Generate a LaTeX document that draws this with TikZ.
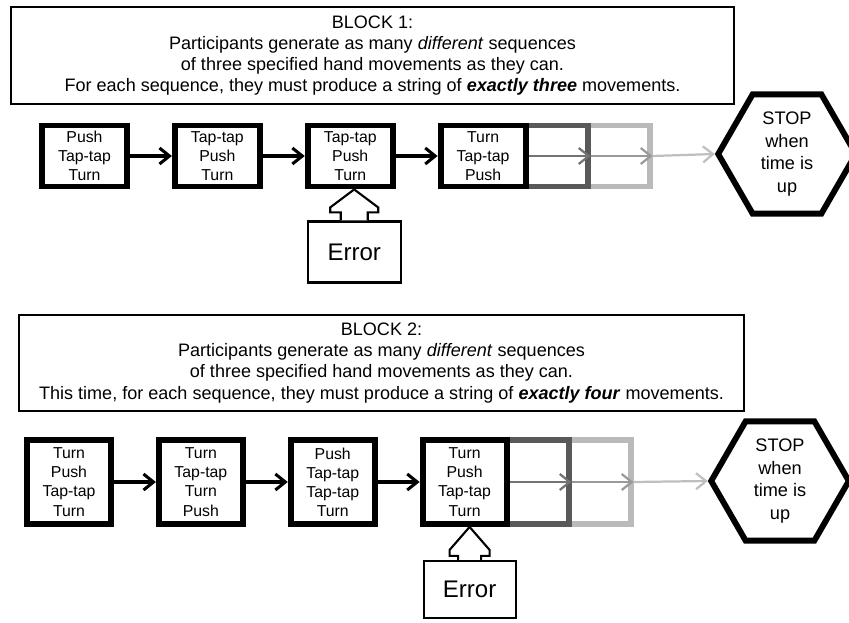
\documentclass[tikz,border=0pt]{standalone}
\usepackage{fontspec}
\setmainfont{Liberation Sans}
\usepackage{tikz}
\usetikzlibrary{arrows.meta,positioning,shapes.geometric}
\usetikzlibrary{backgrounds}
\tikzstyle{block}=[rectangle,
draw=black,
line width=1.6pt,
align=center,
font=\fontsize{15.4}{18}\selectfont]
\tikzstyle{sequence}=[rectangle,
draw=black,
fill=white,
line width=5pt,
align=center,
inner sep=0pt,
font=\fontsize{13.5}{16.3}\selectfont,
minimum width=2.55cm]
\tikzstyle{row1}=[minimum height=1.83cm]
\tikzstyle{row2}=[minimum height=2.52cm,
minimum width=2.52cm]
\tikzstyle{stop}=[regular polygon,
regular polygon sides=6,
draw=black,
fill=white,
line width=5pt,
inner sep=0pt,
align=center,
font=\fontsize{15.5}{19.3}\selectfont]
\tikzstyle{error}=[rectangle,
draw=black,
line width=1.8pt,
font=\fontsize{20.5}{24}\selectfont]
\tikzstyle{errarrow}=[draw=black,
fill=white,
line width=1.8pt,
line join=miter]
\tikzstyle{flow}=[->,
line width=2.6pt]
\tikzstyle{fade}=[->,
line width=1.9pt]

\begin{document}
\begin{tikzpicture}[x=0.03cm,y=-0.03cm,>={Straight Barb[length=3mm,width=4.8mm]}]
	% page frame in pixel units (y runs downwards)
	\useasboundingbox (0,0) rectangle (849,623);

	% First block: header and the three-movement sequences
	\node (block1) [block,minimum width=21.69cm,minimum height=2.91cm] at (372.5,55.5)
	{BLOCK 1:\\
	Participants generate as many \textit{different} sequences\\
	of three specified hand movements as they can.\\
	For each sequence, they must produce a string of \textbf{\textit{exactly three}} movements.};

	\node (s1a) [sequence,row1] at (84.5,156) {Push\\Tap-tap\\Turn};
	\node (s1b) [sequence,row1,right=1.26cm of s1a] {Tap-tap\\Push\\Turn};
	\node (s1c) [sequence,row1,right=1.26cm of s1b] {Tap-tap\\Push\\Turn};
	\node (s1d) [sequence,row1,right=1.26cm of s1c] {Turn\\Tap-tap\\Push};
	\node (stop1) [stop,minimum size=3.7cm] at (787,154) {STOP\\when\\time is\\up};
	\node (err1) [error,minimum width=2.79cm,minimum height=1.83cm,
	below=0.93cm of s1c,xshift=0.12cm] {Error};

	% Second block: header and the four-movement sequences
	\node (block2) [block,minimum width=21.75cm,minimum height=2.88cm] at (381.5,363)
	{BLOCK 2:\\
	Participants generate as many \textit{different} sequences\\
	of three specified hand movements as they can.\\
	This time, for each sequence, they must produce a string of \textbf{\textit{exactly four}} movements.};

	\node (s2a) [sequence,row2] at (69,482) {Turn\\Push\\Tap-tap\\Turn};
	\node (s2b) [sequence,row2,right=1.26cm of s2a] {Turn\\Tap-tap\\Turn\\Push};
	\node (s2c) [sequence,row2,right=1.26cm of s2b] {Push\\Tap-tap\\Tap-tap\\Turn};
	\node (s2d) [sequence,row2,right=1.26cm of s2c] {Turn\\Push\\Tap-tap\\Turn};
	\node (stop2) [stop,minimum size=3.8cm] at (780,481) {STOP\\when\\time is\\up};
	\node (err2) [error,minimum width=2.76cm,minimum height=1.71cm,
	below=0.99cm of s2d,xshift=0.15cm] {Error};

	% The fading boxes behind the last sequence of each row
	\begin{pgfonlayer}{background}
	\node (s1f) [sequence,row1,draw=black!27] at ([xshift=3.72cm]s1d) {};
	\node (s1e) [sequence,row1,draw=black!65] at ([xshift=1.86cm]s1d) {};
	\node (s2f) [sequence,row2,draw=black!27] at ([xshift=3.72cm]s2d) {};
	\node (s2e) [sequence,row2,draw=black!65] at ([xshift=1.86cm]s2d) {};
	\end{pgfonlayer}

	% Connections between the sequences
	\path[flow]
	(s1a) edge (s1b)
	(s1b) edge (s1c)
	(s1c) edge (s1d)
	(s2a) edge (s2b)
	(s2b) edge (s2c)
	(s2c) edge (s2d)
	;
	\draw[fade,draw=black!55] (s1d.east) -- (s1e.east);
	\draw[fade,draw=black!40] (s1e.east) -- (s1f.east);
	\draw[fade,draw=black!25] (s1f.east) -- (stop1.west);
	\draw[fade,draw=black!55] (s2d.east) -- (s2e.east);
	\draw[fade,draw=black!40] (s2e.east) -- (s2f.east);
	\draw[fade,draw=black!25] (s2f.east) -- (stop2.west);

	% Hollow arrows from the error boxes
	\draw[errarrow] (err1.north) ++(-13.5,0) -- ++(0,-8) -- ++(-10.5,0) -- ++(0,-5)
	-- (err1.north |- s1c.south) -- ++(24,18) -- ++(0,5) -- ++(-10.5,0) -- ++(0,8);
	\draw[errarrow] (err2.north) ++(-11.5,0) -- ++(0,-4) -- ++(-8.5,0) -- ++(0,-6)
	-- (err2.north |- s2d.south) -- ++(20,23) -- ++(0,6) -- ++(-8.5,0) -- ++(0,4);
\end{tikzpicture}
\end{document}
